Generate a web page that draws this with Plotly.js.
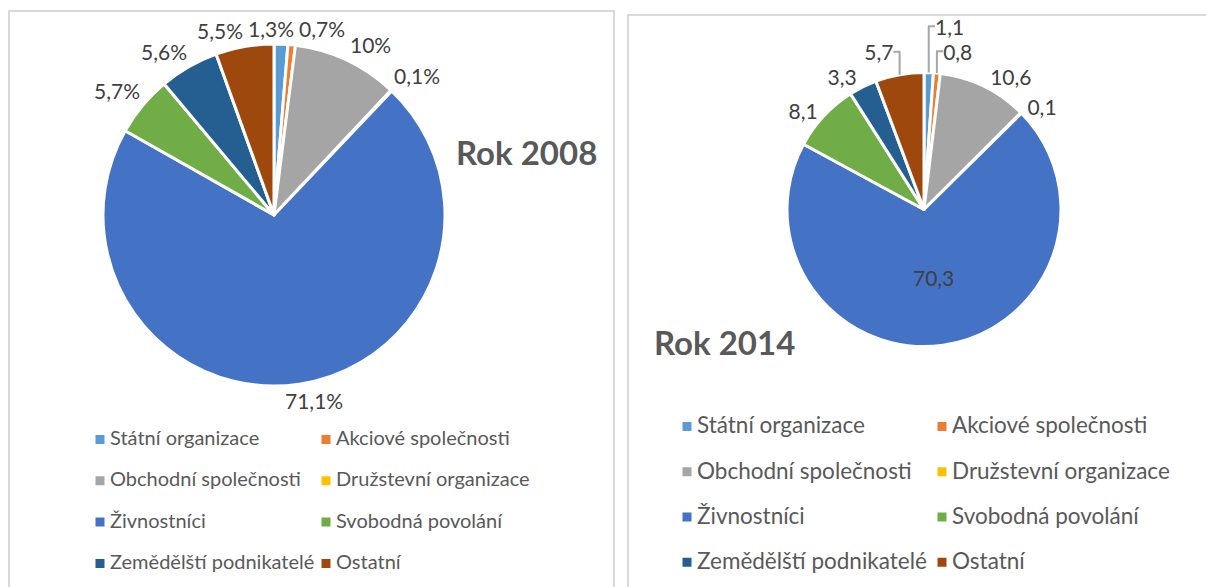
<!DOCTYPE html>
<html><head><meta charset="utf-8">
<script src="https://cdn.plot.ly/plotly-3.0.1.min.js"></script>
<style>
html,body{margin:0;padding:0;background:#fff;overflow:hidden;width:1206px;height:587px;}
.frame{position:absolute;border:2px solid #d9d9d9;z-index:0;}
#b1{left:8px;top:10px;width:603px;height:600px;}
#b2{left:627px;top:14px;width:600px;height:600px;}
.plot{position:absolute;top:0;z-index:1;}
#p1{left:10px;width:603px;height:587px;}
#p2{left:629px;width:577px;height:587px;}
.legend path.legendpie{transform:translate(30px,6px);}
.legend .scrollbox{clip-path:none !important;}
path.textline{stroke:#a6a6a6 !important;}
</style></head><body>
<div class="frame" id="b1"></div><div class="frame" id="b2"></div>
<div class="plot" id="p1"></div><div class="plot" id="p2"></div>
<script>
const categories = ['Státní organizace','Akciové společnosti','Obchodní společnosti','Družstevní organizace','Živnostníci','Svobodná povolání','Zemědělští podnikatelé','Ostatní'];
const values2008 = [1.3, 0.7, 10, 0.1, 71.1, 5.7, 5.6, 5.5];
const values2014 = [1.1, 0.8, 10.6, 0.1, 70.3, 8.1, 3.3, 5.7];
const colors = ['#5B9BD5','#ED7D31','#A5A5A5','#FFC000','#4472C4','#70AD47','#255E91','#9E480E'];
const titles = ['Rok 2008', 'Rok 2014'];

const FONT = 'Lato, "Open Sans", sans-serif';
const LABEL_SIZE = 21;
const fmt = v => String(v).replace('.', ',');

const W1 = 603, H1 = 587, W2 = 577, H2 = 587;
const dom1 = {x: [0.15423, 0.72139], y: [0.34242, 0.92504]};
const dom2 = {x: [0.27383, 0.74870], y: [0.40971, 0.87649]};

function makePie(values, textFn, textinfo, positions, domain, legendSpan) {
  return {
    type: 'pie',
    labels: categories.map(c => '<span style="font-size:' + legendSpan + 'px">' + c + '</span>'),
    values: values,
    text: values.map(textFn),
    textinfo: textinfo,
    textposition: positions,
    insidetextorientation: 'horizontal',
    sort: false,
    direction: 'clockwise',
    rotation: 0,
    automargin: false,
    domain: domain,
    marker: {colors: colors, line: {color: '#ffffff', width: 3}},
    textfont: {family: FONT, size: LABEL_SIZE, color: '#404040'},
    outsidetextfont: {family: FONT, size: LABEL_SIZE, color: '#404040'},
    insidetextfont: {family: FONT, size: LABEL_SIZE, color: '#404040'},
    hoverinfo: 'none'
  };
}

// Outside-end data labels for the 2008 pie, placed from the slice mid-angles
// with a simple horizontal collision resolution (like the spreadsheet's best fit).
function outsideLabels(values, texts, domain, W, H) {
  const total = values.reduce((a, b) => a + b, 0);
  const cx = (domain.x[0] + domain.x[1]) / 2 * W;
  const cy = (1 - (domain.y[0] + domain.y[1]) / 2) * H;
  const r = Math.min((domain.x[1] - domain.x[0]) * W, (domain.y[1] - domain.y[0]) * H) / 2;
  const ctx = document.createElement('canvas').getContext('2d');
  ctx.font = LABEL_SIZE + 'px Lato';
  const gap = 4, h = LABEL_SIZE * 1.15, pad = 5;
  const clamp = t => Math.max(-1, Math.min(1, t / 0.3));
  let cum = 0;
  const L = values.map((v, i) => {
    const th = 2 * Math.PI * (cum + v / 2) / total; cum += v;
    const s = Math.sin(th), c = Math.cos(th);
    const w = ctx.measureText(texts[i]).width;
    return {x: cx + (r + gap) * s + w / 2 * clamp(s), y: cy - (r + gap) * c - h / 2 * clamp(c), w: w, h: h, text: texts[i]};
  });
  for (let it = 0; it < 200; it++) {
    for (let i = 0; i < L.length; i++) for (let j = i + 1; j < L.length; j++) {
      const a = L[i], b = L[j];
      const ox = (a.w + b.w) / 2 + pad - Math.abs(a.x - b.x);
      const oy = (a.h + b.h) / 2 - Math.abs(a.y - b.y);
      if (ox > 0 && oy > 0) { const d = (a.x <= b.x ? -1 : 1) * ox / 2; a.x += d; b.x -= d; }
    }
  }
  return L.map(l => ({
    text: l.text, x: l.x / W, y: 1 - l.y / H, xref: 'paper', yref: 'paper',
    xanchor: 'center', yanchor: 'middle', showarrow: false,
    font: {family: FONT, size: LABEL_SIZE, color: '#404040'}
  }));
}

const labels2008 = values2008.map(v => fmt(v) + '%');
const trace1 = makePie(values2008, v => fmt(v) + '%', 'none', 'none', dom1, 20);
const trace2 = makePie(values2014, v => fmt(v), 'text', categories.map((c, i) => i === 4 ? 'inside' : 'outside'), dom2, 22.5);

function layout(w, h, title, tx, ty, lx, ly, lsize, ew, extra) {
  return {
    width: w, height: h,
    margin: {l: 0, r: 0, t: 0, b: 0},
    paper_bgcolor: 'rgba(0,0,0,0)',
    plot_bgcolor: 'rgba(0,0,0,0)',
    font: {family: FONT, color: '#595959'},
    showlegend: true,
    legend: {
      orientation: 'h', x: lx, y: ly, xanchor: 'left', yanchor: 'top',
      font: {family: FONT, size: lsize, color: '#595959'},
      entrywidth: ew, entrywidthmode: 'pixels',
      bgcolor: 'rgba(0,0,0,0)', borderwidth: 0
    },
    annotations: [{
      text: '<b>' + title + '</b>', xref: 'paper', yref: 'paper', x: tx, y: ty,
      xanchor: 'left', yanchor: 'middle', showarrow: false,
      font: {family: FONT, size: 33, color: '#595959'}
    }].concat(extra)
  };
}

Plotly.newPlot('p1', [trace1],
  layout(W1, H1, titles[0], 0.7364, 0.74106, 60 / W1, 0.30545, 29.5, 181, outsideLabels(values2008, labels2008, dom1, W1, H1)),
  {displayModeBar: false, staticPlot: true});
Plotly.newPlot('p2', [trace2],
  layout(W2, H2, titles[1], 0.0398, 0.41738, 28 / W2, 0.3305, 32.5, 210, []),
  {displayModeBar: false, staticPlot: true});
</script>
</body></html>
